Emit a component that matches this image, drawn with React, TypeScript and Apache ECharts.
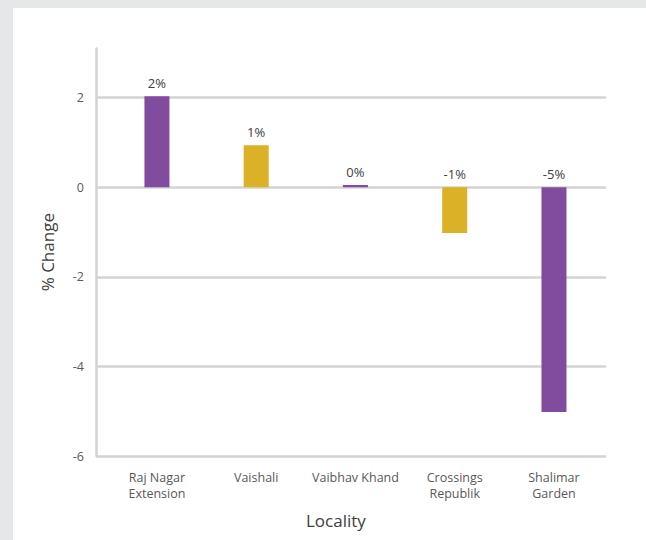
import React, { useEffect, useRef } from "react";
import * as echarts from "echarts";

const categories = ["Raj Nagar\nExtension", "Vaishali", "Vaibhav Khand", "Crossings\nRepublik", "Shalimar\nGarden"];
const values = [2.03, 0.94, 0.05, -1.02, -5.02];
const valueLabels = ["2%", "1%", "0%", "-1%", "-5%"];
const barColors = ["#824c9e", "#dbb227", "#824c9e", "#dbb227", "#824c9e"];
const yTicks = { min: -6, max: 3.1, interval: 2 };

const FONT = "'Open Sans', sans-serif";

export default function App() {
  const ref = useRef<HTMLDivElement>(null);
  useEffect(() => {
    if (!ref.current) return;
    const chart = echarts.init(ref.current, undefined, { renderer: "svg" });
    const gridLine = { color: "#d3d3d3", width: 2.5 };
    chart.setOption({
      animation: false,
      backgroundColor: "#ffffff",
      textStyle: { fontFamily: FONT },
      grid: [
        { left: 83, right: 40, top: 40.4, bottom: 84 },
        { left: 94.3, right: 42.4, top: 40.4, bottom: 84 },
      ],
      xAxis: [
        { gridIndex: 0, type: "value", min: 0, max: 1, show: false },
        {
          gridIndex: 1,
          type: "category",
          data: categories,
          axisLine: { show: false },
          axisTick: { show: false },
          axisLabel: { interval: 0, color: "#595959", fontSize: 12.5, fontFamily: FONT, margin: 13, lineHeight: 16 },
        },
      ],
      yAxis: [
        {
          gridIndex: 0,
          type: "value",
          min: yTicks.min,
          max: yTicks.max,
          interval: yTicks.interval,
          axisLine: { show: true, lineStyle: gridLine },
          axisTick: { show: false },
          splitLine: { show: true, showMaxLine: false, lineStyle: gridLine },
          axisLabel: {
            color: "#595959",
            fontSize: 12.5,
            fontFamily: FONT,
            margin: 12,
            showMaxLabel: false,
            formatter: (v: number) => (v > 3 ? "" : v < 0 ? "-" + Math.abs(v) : String(v)),
          },
          name: "% Change",
          nameLocation: "middle",
          nameGap: 40,
          nameRotate: 90,
          nameTextStyle: { color: "#404040", fontSize: 17, fontFamily: FONT },
        },
        {
          gridIndex: 1,
          type: "value",
          min: yTicks.min,
          max: yTicks.max,
          interval: yTicks.interval,
          show: false,
          splitLine: { show: false },
        },
      ],
      graphic: [
        {
          type: "text",
          left: 327 - 34,
          top: 514 - 10,
          style: { text: "Locality", fill: "#404040", font: `17px ${FONT}` },
        },
      ],
      series: [
        {
          type: "bar",
          xAxisIndex: 1,
          yAxisIndex: 1,
          barWidth: 25,
          data: values.map((v, i) => ({
            value: v,
            itemStyle: { color: barColors[i] },
            label: { formatter: valueLabels[i] },
          })),
          label: {
            show: true,
            position: "top",
            distance: 7,
            color: "#404040",
            fontSize: 13,
            fontFamily: FONT,
          },
        },
      ],
    });
    return () => chart.dispose();
  }, []);
  return (
    <div style={{ position: "fixed", left: 0, top: 0, width: 646, height: 540, background: "#e6e7e8" }}>
      <div ref={ref} style={{ position: "absolute", left: 13, top: 8, width: 633, height: 532, background: "#fff" }} />
    </div>
  );
}
